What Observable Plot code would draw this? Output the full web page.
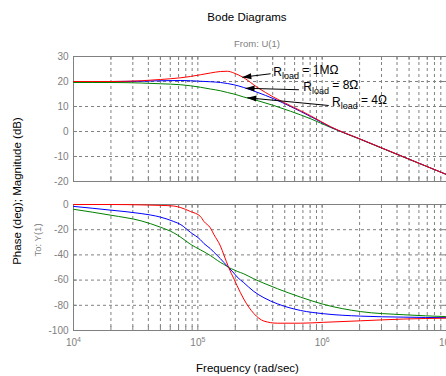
<!DOCTYPE html>
<html>
<head>
<meta charset="utf-8">
<script src="https://cdn.jsdelivr.net/npm/d3@7"></script>
<script src="https://cdn.jsdelivr.net/npm/@observablehq/plot@0.6"></script>
<style>
  html, body { margin: 0; padding: 0; background: #fff; overflow: hidden; }
  #wrap { position: relative; width: 446px; height: 376px; }
  #wrap svg { position: absolute; left: 0; }
</style>
</head>
<body>
<div id="wrap"></div>
<script>
// ---------------- data ----------------
const titleText = "Bode Diagrams";
const fromText = "From: U(1)";
const toText = "To: Y(1)";
const yLabelText = "Phase (deg); Magnitude (dB)";
const xLabelText = "Frequency (rad/sec)";

const xDomain = [1e4, 1e7];
const decades = [1e4, 1e5, 1e6, 1e7];
const minorMultipliers = [2, 3, 4, 5, 6, 7, 8, 9];

const magTicks = [-20, -10, 0, 10, 20, 30];
const phaseTicks = [-100, -80, -60, -40, -20, 0];

// Magnitude (dB), R_load = 1MΩ (red), 8Ω (blue), 4Ω (green)
const magFreq  = [1e4, 2e4, 3.5e4, 5e4, 7.3e4, 8.7e4, 1.05e5, 1.26e5, 1.52e5, 1.73e5, 1.95e5, 2.34e5, 3e5, 4.08e5, 5.57e5, 8.07e5, 1.17e6, 2.04e6, 4.54e6, 1e7];
const magRed   = [20.0, 20.0, 20.3, 20.8, 21.5, 22.0, 22.7, 23.4, 24.0, 24.1, 23.4, 21.5, 17.7, 13.7, 10.3, 6.3, 1.9, -3.1, -10.2, -17.2];
const magBlue  = [20.0, 20.0, 20.1, 20.3, 20.4, 20.3, 20.1, 19.9, 19.6, 19.2, 18.7, 17.6, 15.7, 13.1, 10.0, 6.0, 1.8, -3.1, -10.2, -17.2];
const magGreen = [19.6, 19.6, 19.4, 19.1, 18.7, 18.3, 17.7, 17.0, 16.3, 15.6, 15.0, 13.8, 12.4, 10.4, 8.1, 5.1, 1.6, -3.2, -10.3, -17.2];

// Phase (deg)
const phaseFreq  = [1e4, 2e4, 3.5e4, 5e4, 6.4e4, 7.3e4, 8.7e4, 1.05e5, 1.12e5, 1.26e5, 1.35e5, 1.52e5, 1.62e5, 1.77e5, 1.95e5, 2.07e5, 2.34e5, 2.82e5, 3.4e5, 4.36e5, 6.7e5, 1.03e6, 2.04e6, 4.54e6, 1e7];
const phaseRed   = [0, 0, -0.3, -0.7, -1.2, -2.5, -5.5, -9.5, -13.5, -18.5, -24, -33, -40, -50, -59, -64.5, -75, -86.5, -92.5, -94.2, -94.2, -93.5, -92.3, -90.9, -90.2];
const phaseBlue  = [-1.5, -4.5, -7.2, -10, -13.5, -16, -22, -28, -31, -35, -38, -43, -46, -50, -54.5, -57.5, -62, -69, -74, -78.8, -84.1, -86.7, -88.6, -89.4, -89.8];
const phaseGreen = [-3.8, -8.5, -13, -18, -22.5, -26, -31.5, -36, -37.5, -40.5, -42.5, -46, -47.5, -50, -51.8, -53, -55, -59, -62.5, -66.8, -73.5, -79.3, -85, -87.5, -89];

// Annotations (R_load labels with arrows)
const loadValues   = ["1MΩ", "8Ω", "4Ω"];
const labelFreq    = [4.05e5, 7.05e5, 1.2e6];
const labelDb      = [22.4, 16.4, 10.4];
const arrowTailFreq = [3.85e5, 6.5e5, 1.13e6];
const arrowTailDb   = [23.1, 16.7, 10.4];
const arrowTipFreq  = [2.28e5, 2.42e5, 2.5e5];
const arrowTipDb    = [21.7, 17.3, 13.5];

// ---------------- styles / layout ----------------
const FONT = '"Liberation Sans", Arial, Helvetica, sans-serif';
const GRAY = "#808080";
const RED = "#ff0000", BLUE = "#0000ff", GREEN = "#008000";
const W = 446, H = 376, ML = 73, MR = 0;
const headTilt = [-7, 2, 5]; // arrow head rotation (deg)

const minorX = [];
decades.slice(0, -1).forEach(d => minorMultipliers.forEach(m => minorX.push(d * m)));
const allXTicks = decades.concat(minorX);
const gridX = allXTicks.filter(v => v > xDomain[0] && v < xDomain[1]);

const arrowHead = {
  draw(ctx, size) {
    ctx.moveTo(0, 0);
    ctx.lineTo(9, -3);
    ctx.lineTo(9, 3);
    ctx.closePath();
  }
};

function panel({h, mt, mb, yDomain, yTicks, showX, lines, extra = []}) {
  const frameH = h - mt - mb;
  const frameW = W - ML - MR;
  const inner = yTicks.filter(t => t > yDomain[0] && t < yDomain[1]);
  return Plot.plot({
    width: W, height: h,
    marginLeft: ML, marginRight: MR, marginTop: mt, marginBottom: mb,
    style: {fontFamily: FONT, fontSize: "10px", color: GRAY, background: "transparent", overflow: "visible"},
    x: showX
      ? {type: "log", domain: xDomain, ticks: decades, tickSize: 0, tickPadding: 8,
         tickFormat: d => "10^" + Math.round(Math.log10(d)), label: null}
      : {type: "log", domain: xDomain, axis: null},
    y: {domain: yDomain, ticks: yTicks, tickSize: 0, tickPadding: 5, tickFormat: d => String(d), label: null},
    marks: [
      Plot.ruleX(gridX, {x: d => d, stroke: GRAY, strokeDasharray: "3,3"}),
      Plot.ruleY(inner, {y: d => d, stroke: GRAY, strokeDasharray: "3,3"}),
      Plot.frame({stroke: GRAY}),
      Plot.tickX(allXTicks, {x: d => d, stroke: GRAY, insetTop: frameH - 4}),
      Plot.tickX(allXTicks, {x: d => d, stroke: GRAY, insetBottom: frameH - 4}),
      Plot.tickY(yTicks, {y: d => d, stroke: GRAY, insetRight: frameW - 4}),
      Plot.tickY(yTicks, {y: d => d, stroke: GRAY, insetLeft: frameW - 4}),
      ...lines,
      ...extra
    ]
  });
}

const lineOpts = {curve: "monotone-x", strokeWidth: 1};

const topPlot = panel({
  h: 192, mt: 56, mb: 11, yDomain: [-20, 30], yTicks: magTicks, showX: false,
  lines: [
    Plot.line(magFreq, {x: magFreq, y: magGreen, stroke: GREEN, ...lineOpts}),
    Plot.line(magFreq, {x: magFreq, y: magBlue, stroke: BLUE, ...lineOpts}),
    Plot.line(magFreq, {x: magFreq, y: magRed, stroke: RED, ...lineOpts})
  ],
  extra: [
    Plot.link(loadValues, {x1: arrowTailFreq, y1: arrowTailDb, x2: arrowTipFreq, y2: arrowTipDb, stroke: "black", strokeWidth: 1}),
    Plot.dot(loadValues, {x: arrowTipFreq, y: arrowTipDb, symbol: arrowHead, r: 3, fill: "black", stroke: null, rotate: headTilt}),
    Plot.text(loadValues, {x: labelFreq, y: labelDb, text: d => d, textAnchor: "start", lineAnchor: "bottom", fill: "black", fontSize: 12})
  ]
});

const botPlot = panel({
  h: 184, mt: 12, mb: 46, yDomain: [-100, 0], yTicks: phaseTicks, showX: true,
  lines: [
    Plot.line(phaseFreq, {x: phaseFreq, y: phaseGreen, stroke: GREEN, ...lineOpts}),
    Plot.line(phaseFreq, {x: phaseFreq, y: phaseBlue, stroke: BLUE, ...lineOpts}),
    Plot.line(phaseFreq, {x: phaseFreq, y: phaseRed, stroke: RED, ...lineOpts})
  ]
});

const wrap = document.getElementById("wrap");
topPlot.style.top = "0px";
botPlot.style.top = "192px";
wrap.appendChild(topPlot);
wrap.appendChild(botPlot);

// R_load labels with subscript
d3.select(topPlot).selectAll("text").each(function () {
  const s = this.textContent;
  if (loadValues.includes(s)) {
    const t = d3.select(this);
    t.text(null);
    t.append("tspan").text("R");
    t.append("tspan").attr("dy", "0.42em").attr("font-size", "9px").text("load");
    t.append("tspan").attr("dy", "-0.42em").text(" = " + s);
  }
});
// 10^n tick labels with superscript
d3.select(botPlot).selectAll("text").each(function () {
  const m = /^10\^(\d+)$/.exec(this.textContent);
  if (m) {
    const t = d3.select(this);
    t.text(null);
    t.append("tspan").text("10");
    t.append("tspan").attr("dy", "-0.5em").attr("font-size", "7px").text(m[1]);
  }
});

// Titles and axis labels
const ov = d3.select(wrap).append("svg")
  .attr("width", W).attr("height", H)
  .style("top", "0px").style("pointer-events", "none")
  .style("font-family", FONT);
ov.append("text").attr("x", 247).attr("y", 20.5).attr("text-anchor", "middle")
  .attr("font-size", 11.5).attr("fill", "#000").text(titleText);
ov.append("text").attr("x", 257).attr("y", 46.5).attr("text-anchor", "middle")
  .attr("font-size", 9.5).attr("fill", GRAY).text(fromText);
ov.append("text").attr("x", 247.5).attr("y", 371.5).attr("text-anchor", "middle")
  .attr("font-size", 11.5).attr("fill", "#000").text(xLabelText);
ov.append("text").attr("transform", "translate(20.5,191) rotate(-90)").attr("text-anchor", "middle")
  .attr("font-size", 11.5).attr("fill", "#000").text(yLabelText);
ov.append("text").attr("transform", "translate(41,240) rotate(-90)").attr("text-anchor", "middle")
  .attr("font-size", 9.5).attr("fill", GRAY).text(toText);
</script>
</body>
</html>
